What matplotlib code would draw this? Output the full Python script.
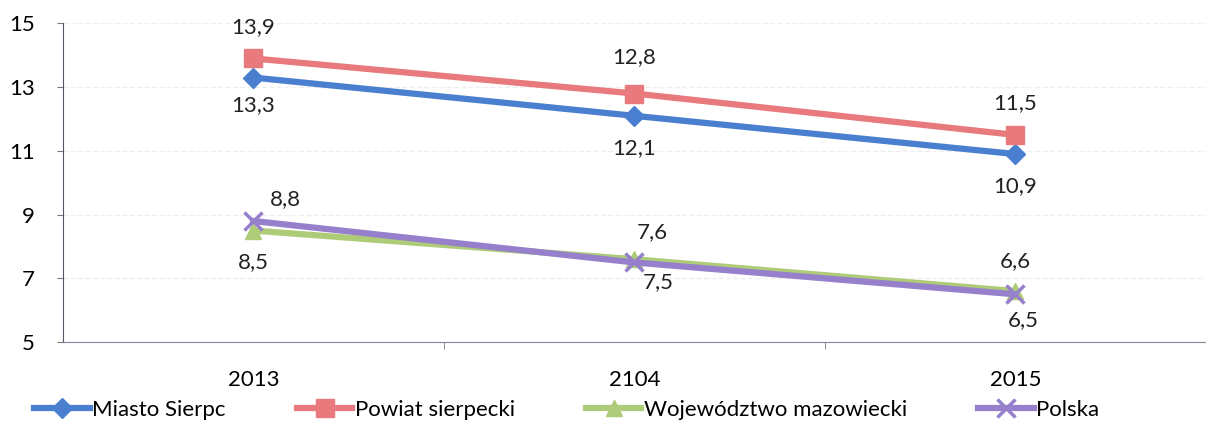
import numpy as np
import matplotlib.pyplot as plt
from matplotlib.ticker import FixedLocator

plt.rcParams['font.family'] = ['Lato', 'DejaVu Sans']

years = ["2013", "2104", "2015"]
miasto = [13.3, 12.1, 10.9]
powiat = [13.9, 12.8, 11.5]
wojewodztwo = [8.5, 7.6, 6.6]
polska = [8.8, 7.5, 6.5]

# label offsets in pixels (dx, dy) for each point
series = [
    ("Miasto Sierpc", miasto, "#4A7FD0", "D", 10, [(0, -28), (0, -32), (0, -32)]),
    ("Powiat sierpecki", powiat, "#E8797C", "s", 13, [(0, 31), (0, 36), (0, 32)]),
    ("Województwo mazowiecki", wojewodztwo, "#AECB78", "^", 11, [(0, -32), (18, 27), (0, 30)]),
    ("Polska", polska, "#9680CC", "x", 13, [(32, 22), (24, -20), (8, -26)]),
]

fig = plt.figure(figsize=(12.06, 4.25), dpi=100)
ax = fig.add_axes([0.052, 0.195, 0.948, 0.75])

x = np.arange(len(years))
for name, vals, col, mk, ms, offs in series:
    ax.plot(x, vals, color=col, lw=4.5, marker=mk, markersize=ms,
            markeredgewidth=2.5 if mk == "x" else 1, label=name)
    for xi, v, (dx, dy) in zip(x, vals, offs):
        ax.annotate(f"{v:.1f}".replace(".", ","), (xi, v), xytext=(dx, dy),
                    textcoords="offset pixels", ha="center", va="center",
                    fontsize=16, color="#222222")

ax.set_xlim(-0.5, 2.5)
ax.set_ylim(5, 15)
ax.set_yticks([5, 7, 9, 11, 13, 15])
ax.set_xticks(x)
ax.set_xticklabels(years)
ax.xaxis.set_minor_locator(FixedLocator([0.5, 1.5]))
ax.tick_params(axis="x", which="major", length=0, labelsize=16, pad=20)
ax.tick_params(axis="x", which="minor", length=5, color="#777777")
ax.tick_params(axis="y", length=4, labelsize=16, pad=16, color="#777777")
ax.grid(axis="y", color="#EEEEEE", lw=1, ls="--")
for s in ["top", "right"]:
    ax.spines[s].set_visible(False)
ax.spines["left"].set_color("#555566")
ax.spines["bottom"].set_color("#888899")

fig.legend(loc="lower left", bbox_to_anchor=(0.012, -0.035), ncol=4, frameon=False,
           fontsize=16, handlelength=2.5, handletextpad=0.1, columnspacing=3.2)

fig.savefig("out.png", dpi=100)
